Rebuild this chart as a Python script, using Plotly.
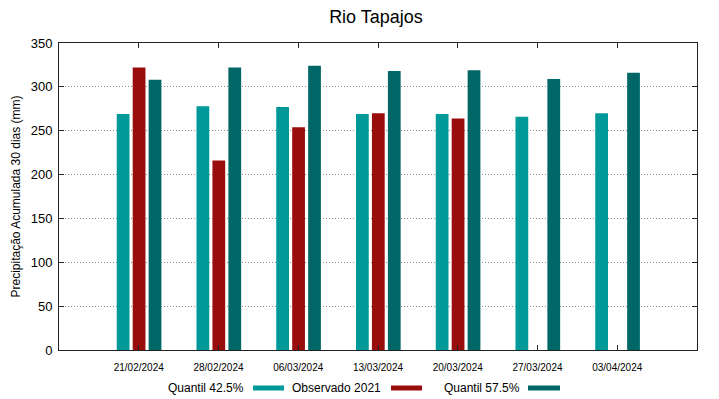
import plotly.graph_objects as go

categories = ["21/02/2024", "28/02/2024", "06/03/2024", "13/03/2024",
              "20/03/2024", "27/03/2024", "03/04/2024"]
q425 = [269, 278, 277, 269, 269, 266, 270]
observado = [322, 216, 254, 270, 264, None, None]
q575 = [308, 322, 324, 318, 319, 309, 316]

series_names = ["Quantil 42.5%", "Observado 2021", "Quantil 57.5%"]
colors = ["#009999", "#990d0d", "#006666"]
offsets = [-0.276, -0.076, 0.124]
bar_w = 0.16

fig = go.Figure()
for name, vals, col, off in zip(series_names, [q425, observado, q575], colors, offsets):
    fig.add_trace(go.Bar(
        x=categories, y=vals, name=name, width=bar_w, offset=off,
        marker=dict(color=col, line=dict(width=0)), showlegend=False,
    ))

# the page body has an 8px margin, so the figure is drawn 8px smaller
BODY = 8
W, H = 719 - BODY, 399 - BODY
L, R, T, B = 59 - BODY, 697 - BODY, 43 - BODY, 350 - BODY
pw, ph = R - L, B - T

def px(xp):
    return (xp - BODY - L) / pw

def py(yp):
    return (B - (yp - BODY)) / ph

# manual gnuplot-style legend: text then swatch (screen pixel positions)
legend_items = [
    (series_names[0], colors[0], 246, 253, 284),
    (series_names[1], colors[1], 383, 391, 422),
    (series_names[2], colors[2], 522, 528, 560),
]
annotations = []
shapes = []
for name, col, tx, s0, s1 in legend_items:
    annotations.append(dict(
        x=px(tx), y=py(388), xref="paper", yref="paper", text=name,
        showarrow=False, xanchor="right", yanchor="middle",
        font=dict(family="Liberation Sans, Arial, sans-serif", size=12, color="#000000"),
    ))
    shapes.append(dict(
        type="rect", xref="paper", yref="paper",
        x0=px(s0), x1=px(s1), y0=py(385.5), y1=py(390.5),
        fillcolor=col, line=dict(width=0),
    ))

fig.update_layout(
    width=W, height=H,
    margin=dict(l=L, r=W - R, t=T, b=H - B, pad=0, autoexpand=False),
    paper_bgcolor="white", plot_bgcolor="white",
    barmode="overlay",
    title=dict(text="Rio Tapajos", x=(376 - BODY) / W, xanchor="center",
               y=1 - (17 - BODY) / H, yanchor="middle",
               font=dict(family="Liberation Sans, Arial, sans-serif", size=18, color="#000000")),
    font=dict(family="Liberation Sans, Arial, sans-serif", color="#000000"),
    annotations=annotations,
    shapes=shapes,
)
fig.update_xaxes(
    type="category", range=[-1, 7], showgrid=False, automargin=False,
    showline=True, linecolor="#222222", linewidth=1, mirror="ticks",
    ticks="inside", ticklen=5, tickcolor="#222222",
    tickfont=dict(size=10, color="#000000"), zeroline=False,
    ticklabelstandoff=8,
)
fig.update_yaxes(
    range=[0, 350], tickvals=[0, 50, 100, 150, 200, 250, 300, 350], automargin=False,
    showgrid=True, gridcolor="#8c8c8c", griddash="1px,2px", gridwidth=1,
    showline=True, linecolor="#222222", linewidth=1, mirror="ticks",
    ticks="inside", ticklen=5, tickcolor="#222222",
    tickfont=dict(size=13, color="#000000"), zeroline=False,
    ticklabelstandoff=3,
    title=dict(text="Precipitação Acumulada 30 dias (mm)", font=dict(size=12, color="#000000"), standoff=7),
)

fig.write_html("out.html")
